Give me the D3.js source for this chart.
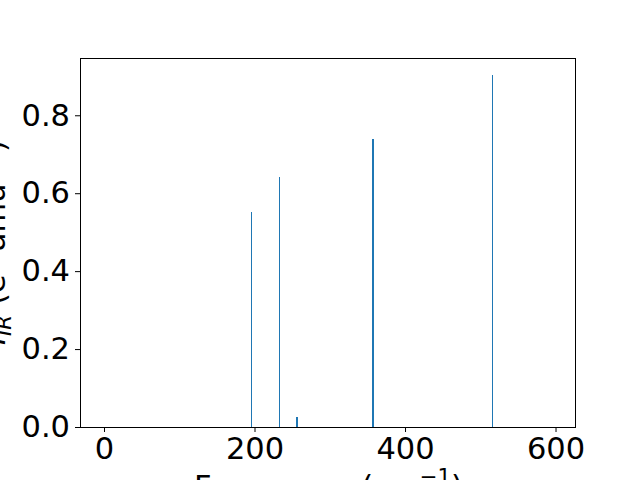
<!DOCTYPE html>
<html><head><meta charset="utf-8">
<script src="https://cdn.jsdelivr.net/npm/d3@7"></script>
<style>body{margin:0;background:#fff}svg{display:block}text{font-family:"DejaVu Sans",sans-serif}</style>
</head><body>
<script>
const frequencies = [196.3, 233.0, 256.5, 357.5, 516.0];
const intensities = [0.552, 0.641, 0.025, 0.739, 0.904];
const xTicks = [0, 200, 400, 600];
const yTicks = [0.0, 0.2, 0.4, 0.6, 0.8];

const W = 640, H = 480;
const FS = 30.5, SUB = 21.35;
const m = {left: 80, right: 576, top: 58, bottom: 427};
const svg = d3.select("body").append("svg").attr("width", W).attr("height", H);

const x = d3.scaleLinear().domain([-31.9, 627.2]).range([m.left, m.right]);
const y = d3.scaleLinear().domain([0, 0.947]).range([m.bottom, m.top]);

const barW = [1, 1, 2, 2, 1];
svg.append("g").selectAll("rect").data(frequencies).join("rect")
  .attr("x", (d, i) => Math.round(x(d) - barW[i] / 2))
  .attr("width", (d, i) => barW[i])
  .attr("y", (d, i) => y(intensities[i]))
  .attr("height", (d, i) => y(0) - y(intensities[i]))
  .attr("fill", "#1f77b4")
  .attr("shape-rendering", "crispEdges");

const xAxis = svg.append("g").attr("transform", `translate(0,${m.bottom})`)
  .call(d3.axisBottom(x).tickValues(xTicks).tickSize(5).tickPadding(5).tickFormat(d3.format("d")));
const yAxis = svg.append("g").attr("transform", `translate(${m.left},0)`)
  .call(d3.axisLeft(y).tickValues(yTicks).tickSize(5).tickPadding(5).tickFormat(d3.format(".1f")));
[xAxis, yAxis].forEach(g => {
  g.select(".domain").remove();
  g.selectAll("line").attr("stroke", "#000").attr("stroke-width", 1);
  g.selectAll("text").attr("font-size", FS).attr("fill", "#000").attr("font-family", "DejaVu Sans");
});

svg.append("rect").attr("x", m.left + 0.5).attr("y", m.top + 0.5)
  .attr("width", m.right - m.left - 1).attr("height", m.bottom - m.top)
  .attr("fill", "none").attr("stroke", "#000").attr("stroke-width", 1);

// x label
const xl = svg.append("text").attr("x", 328.5).attr("y", 497)
  .attr("text-anchor", "middle").attr("font-size", FS);
xl.append("tspan").text("Frequency (cm");
xl.append("tspan").attr("dy", -13).attr("font-size", SUB).text("−1");
xl.append("tspan").attr("dy", 13).text(")");

// y label
const yl = svg.append("text").attr("transform", `translate(5,${(m.top + m.bottom) / 2}) rotate(-90)`)
  .attr("text-anchor", "middle").attr("font-size", FS);
yl.append("tspan").attr("font-style", "italic").text("I");
yl.append("tspan").attr("dy", 6).attr("font-size", SUB).attr("font-style", "italic").text("IR");
yl.append("tspan").attr("dy", -6).text(" (e");
yl.append("tspan").attr("dy", -12).attr("font-size", SUB).text("2");
yl.append("tspan").attr("dy", 12).text(" amu");
yl.append("tspan").attr("dy", -12).attr("font-size", SUB).text("−1");
yl.append("tspan").attr("dy", 12).text(")");
</script>
</body></html>
